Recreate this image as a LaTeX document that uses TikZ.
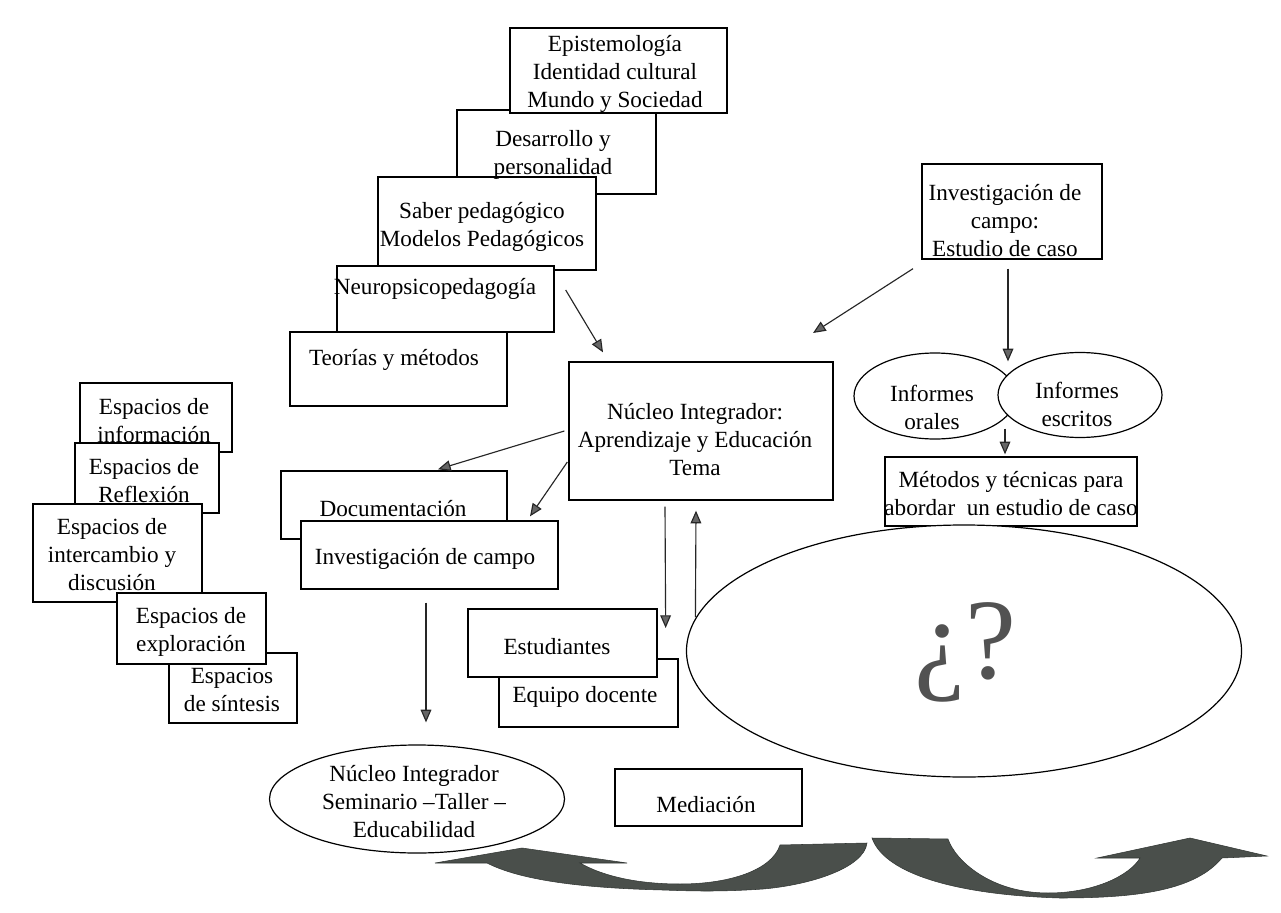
\documentclass[tikz,border=0pt]{standalone}
\usepackage{fontspec}
\setmainfont{Liberation Serif}
\usetikzlibrary{arrows.meta,shapes.geometric}
\newdimen\px \px=0.75pt
\begin{document}
\begin{tikzpicture}[x=0.75pt,y=-0.75pt,
  box/.style={draw=black, fill=white, line width=1pt, rectangle, inner sep=0pt},
  oval/.style={draw=black, fill=white, line width=0.9pt, ellipse, inner sep=0pt},
  txt/.style={font=\fontsize{17.4pt}{21pt}\selectfont, align=center, inner sep=0pt, text=black},
  conn/.style={draw=black!85, line width=0.85pt, -{Triangle[length=9.5pt,width=8pt,fill=black!60]}},
  bigarrow/.style={fill={rgb,255:red,74;green,79;blue,75}, draw={rgb,255:red,50;green,55;blue,52}, line width=0.4pt}
]
\useasboundingbox[fill=white] (0,0) rectangle (1281,913);

% ---- upper staircase of boxes
\node[box, minimum width=199\px, minimum height=84\px] (des) at (556.5,152) {};
\node[box, minimum width=217\px, minimum height=85\px] (epi) at (618.5,70.5) {};
\node[box, minimum width=218\px, minimum height=93\px] (sab) at (487,223.5) {};
\node[box, minimum width=217\px, minimum height=66\px] (neu) at (445.5,299) {};
\node[box, minimum width=217\px, minimum height=74\px] (teo) at (398.5,369) {};

% ---- left column of boxes
\node[box, minimum width=152\px, minimum height=69\px] (ei) at (156,417.5) {};
\node[box, minimum width=144\px, minimum height=70\px] (er) at (147,478) {};
\node[box, minimum width=169\px, minimum height=98\px] (eic) at (117.5,553) {};
\node[box, minimum width=128\px, minimum height=70\px] (esi) at (233,688) {};
\node[box, minimum width=149\px, minimum height=71\px] (eex) at (191.5,628.5) {};

% ---- centre
\node[box, minimum width=264\px, minimum height=138\px] (nuc) at (701,431) {};
\node[box, minimum width=226\px, minimum height=68\px] (doc) at (394,505) {};
\node[box, minimum width=257\px, minimum height=68\px] (inv) at (429.5,555) {};
\node[box, minimum width=179\px, minimum height=68\px] (eqd) at (588.5,693) {};
\node[box, minimum width=189\px, minimum height=68\px] (est) at (562.5,643) {};

% ---- right
\node[box, minimum width=180\px, minimum height=95\px] (ivc) at (1012,211.5) {};
\node[oval, minimum width=162\px, minimum height=86\px] (ior) at (935,396) {};
\node[oval, minimum width=164\px, minimum height=85\px] (ies) at (1080,395) {};
\node[box, minimum width=252\px, minimum height=69\px] (met) at (1011,491.5) {};
\node[oval, minimum width=555\px, minimum height=252\px] (q) at (964,651) {};

% ---- bottom
\node[oval, minimum width=295\px, minimum height=108\px] (sem) at (417,799) {};
\node[box, minimum width=187\px, minimum height=57\px] (med) at (708.5,797.5) {};

% ---- texts
\node[txt] (epiT) at (615,74) {Epistemología\\Identidad cultural\\Mundo y Sociedad};
\node[txt] (desT) at (553,155) {Desarrollo y\\personalidad};
\node[txt] (sabT) at (482,227) {Saber pedagógico\\Modelos Pedagógicos};
\node[txt] (neuT) at (435,289) {Neuropsicopedagogía};
\node[txt] (teoT) at (394,360) {Teorías y métodos};
\node[txt] (eiT) at (154,421) {Espacios de\\información};
\node[txt] (erT) at (144,481) {Espacios de\\Reflexión};
\node[txt] (eicT) at (112,555) {Espacios de\\intercambio y\\discusión};
\node[txt] (eexT) at (191,632) {Espacios de\\exploración};
\node[txt] (esiT) at (232,690) {Espacios\\de síntesis};
\node[txt] (nucT) at (695,440) {Núcleo Integrador:\\Aprendizaje y Educación\\Tema};
\node[txt] (docT) at (393,509) {Documentación};
\node[txt] (invT) at (425,559) {Investigación de campo};
\node[txt] (estT) at (557,647) {Estudiantes};
\node[txt] (eqdT) at (585,697) {Equipo docente};
\node[txt] (ivcT) at (1005,221) {Investigación de\\campo:\\Estudio de caso};
\node[txt] (iorT) at (932,407) {Informes\\orales};
\node[txt] (iesT) at (1077,404) {Informes\\escritos};
\node[txt] (metT) at (1011,494) {Métodos y técnicas para\\abordar\ \ un estudio de caso};
\node[txt] (semT) at (414,802) {Núcleo Integrador\\Seminario –Taller –\\Educabilidad};
\node[txt] (medT) at (706,805) {Mediación};
\node[font=\fontsize{86pt}{90pt}\selectfont, text=black!68, inner sep=0pt] (qT) at (965,652) {¿?};

% ---- connectors
\coordinate (ivcend) at (813,333);
\draw[conn] ([shift={(11,-9)}]neu.east) -- ([shift={(-98,-9)}]nuc.north);
\draw[conn] ([shift={(-4,0)}]nuc.west) -- ([shift={(44,-1)}]doc.north);
\draw[conn] ([shift={(-1,31)}]nuc.west) -- ([shift={(100.5,-4)}]inv.north);
\draw[conn] ([shift={(-3.5,13)}]inv.south) -- ([shift={(9,-22)}]sem.north);
\draw[conn] ([shift={(-36,6)}]nuc.south) -- ([shift={(8,-15)}]est.east);
\draw[conn] ([shift={(9.5,-34)}]q.west) -- ([shift={(-5,10)}]nuc.south);
\draw[conn] ([shift={(-99,9)}]ivc.south) -- (ivcend);
\draw[conn] ([shift={(-4,9)}]ivc.south) -- ([shift={(-72,9.5)}]ies.north);
\draw[conn] ([shift={(-75,-9.5)}]ies.south) -- ([shift={(-6,-2)}]met.north);

% ---- big curved arrows
\fill[bigarrow] (435,863) -- (522,848) -- (627,863) -- (580,863)
  .. controls (610,880) and (650,884) .. (680,884)
  .. controls (730,884) and (772,870) .. (780,845)
  -- (867,843)
  .. controls (864,868) and (810,885) .. (763,889)
  .. controls (720,892) and (690,891) .. (663,890)
  .. controls (580,888) and (520,880) .. (487,863) -- cycle;
\fill[bigarrow] (872,838) -- (948,839)
  .. controls (955,860) and (990,893) .. (1048,893)
  .. controls (1095,893) and (1130,875) .. (1140,858)
  -- (1097,858) -- (1190,838) -- (1267,856) -- (1222,858)
  .. controls (1195,890) and (1140,898) .. (1060,898)
  .. controls (960,895) and (885,875) .. (872,838) -- cycle;
\end{tikzpicture}
\end{document}
